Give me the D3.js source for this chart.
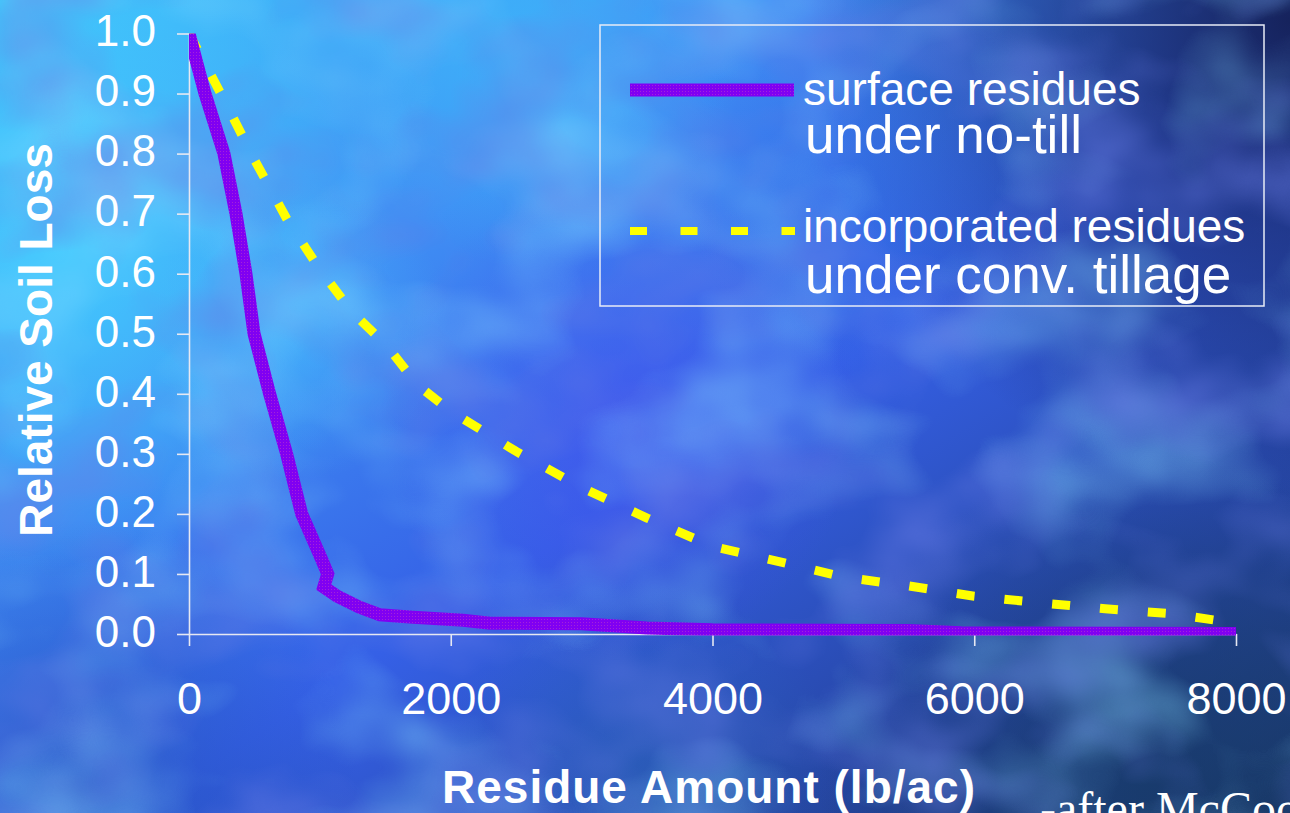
<!DOCTYPE html>
<html><head><meta charset="utf-8">
<script src="https://cdn.jsdelivr.net/npm/d3@7"></script>
<style>html,body{margin:0;padding:0;overflow:hidden;background:#2a60d8}svg{display:block}</style>
</head><body><svg id="c" width="1290" height="813"></svg>
<script>
// ---- data ----
const xTicks = [0, 2000, 4000, 6000, 8000];
const yTicks = [0, 0.1, 0.2, 0.3, 0.4, 0.5, 0.6, 0.7, 0.8, 0.9, 1.0];
const surfaceX = [0, 122, 267, 359, 435, 497, 616, 746, 861, 1016, 1060, 1030, 1131, 1300, 1459, 1713, 2095, 2300, 3000, 3500, 4000, 5500, 5900, 8000];
const surfaceY = [1.0, 0.9, 0.8, 0.7, 0.6, 0.5, 0.4, 0.3, 0.2, 0.123, 0.1, 0.078, 0.063, 0.045, 0.032, 0.028, 0.023, 0.018, 0.017, 0.010, 0.007, 0.006, 0.002, 0.001];
const incorpX = [0, 250, 500, 750, 1000, 1250, 1500, 1750, 2000, 2500, 3000, 3500, 4000, 4500, 5000, 5500, 6000, 6500, 7000, 7500, 8000];
const incorpY = [1.0, 0.897, 0.79, 0.69, 0.607, 0.535, 0.483, 0.414, 0.371, 0.304, 0.244, 0.193, 0.146, 0.121, 0.095, 0.080, 0.063, 0.052, 0.042, 0.034, 0.018];
const seriesNames = [["surface residues", "under no-till"], ["incorporated residues", "under conv. tillage"]];
const xTitle = "Residue Amount (lb/ac)";
const yTitle = "Relative Soil Loss";
const credit = "-after McCool et al.";

// ---- setup ----
const W = 1290, H = 813;
const svg = d3.select("#c");
const defs = svg.append("defs");

// background
const lg = defs.append("linearGradient").attr("id", "bg").attr("x1", 0).attr("y1", 0).attr("x2", 1).attr("y2", 1);
[[0, "#3fc6fb"], [0.3, "#3f8ef4"], [0.55, "#3560e6"], [0.8, "#2646a4"], [1, "#1a3868"]].forEach(s => lg.append("stop").attr("offset", s[0]).attr("stop-color", s[1]));
svg.append("rect").attr("width", W).attr("height", H).attr("fill", "url(#bg)");

const blobs = [
  {id: "b1", cx: 60, cy: 250, r: 330, c: "#44d0ff", o: 0.85},
  {id: "b2", cx: 540, cy: 70, r: 200, c: "#3cc0fc", o: 0.6},
  {id: "b3", cx: 300, cy: 330, r: 150, c: "#48c4ff", o: 0.45},
  {id: "b4", cx: 620, cy: 420, r: 240, c: "#4a4cf0", o: 0.5},
  {id: "b5", cx: 1290, cy: 20, r: 480, c: "#141f55", o: 0.95},
  {id: "b6", cx: 1150, cy: 780, r: 330, c: "#163a66", o: 0.7},
  {id: "b7", cx: 80, cy: 800, r: 280, c: "#1f4cb0", o: 0.6},
  {id: "b8", cx: 640, cy: 780, r: 200, c: "#2a74b8", o: 0.35},
  {id: "b9", cx: 880, cy: 180, r: 200, c: "#2f6ae0", o: 0.4}
];
blobs.forEach(b => {
  const rg = defs.append("radialGradient").attr("id", b.id).attr("gradientUnits", "userSpaceOnUse")
    .attr("cx", b.cx).attr("cy", b.cy).attr("r", b.r);
  rg.append("stop").attr("offset", 0).attr("stop-color", b.c).attr("stop-opacity", b.o);
  rg.append("stop").attr("offset", 1).attr("stop-color", b.c).attr("stop-opacity", 0);
  svg.append("rect").attr("width", W).attr("height", H).attr("fill", `url(#${b.id})`);
});

// cloudy texture
function cloud(id, seed, freq, color, a, off) {
  const f = defs.append("filter").attr("id", id).attr("x", 0).attr("y", 0).attr("width", "100%").attr("height", "100%");
  f.append("feTurbulence").attr("type", "fractalNoise").attr("baseFrequency", freq).attr("numOctaves", 3).attr("seed", seed);
  const c = d3.color(color);
  f.append("feColorMatrix").attr("type", "matrix")
    .attr("values", `0 0 0 0 ${c.r/255} 0 0 0 0 ${c.g/255} 0 0 0 0 ${c.b/255} ${a} 0 0 0 ${off}`);
  svg.append("rect").attr("width", W).attr("height", H).attr("filter", `url(#${id})`);
}
cloud("cl1", 3, "0.006 0.008", "#3fb4ff", 1.1, -0.5);
cloud("cl2", 11, "0.007 0.009", "#2434c8", 1.2, -0.52);

// purple texture pattern
const pat = defs.append("pattern").attr("id", "pp").attr("patternUnits", "userSpaceOnUse").attr("width", 3).attr("height", 3);
pat.append("rect").attr("width", 3).attr("height", 3).attr("fill", "#8000f2");
pat.append("rect").attr("x", 1).attr("y", 1).attr("width", 1).attr("height", 1).attr("fill", "#a424d8");

// ---- scales ----
const x = d3.scaleLinear().domain([0, 8000]).range([189, 1236]);
const y = d3.scaleLinear().domain([0, 1]).range([634, 33.5]);

defs.append("clipPath").attr("id", "plotclip").append("rect")
  .attr("x", x(0)).attr("y", y(1)).attr("width", x(8000) - x(0) + 6).attr("height", y(0) - y(1) + 1.5);

// ---- axes ----
const font = "'Liberation Sans', Arial, sans-serif";
const axisColor = "#e6e8f2";
const yAxis = svg.append("g").attr("transform", `translate(${x(0)},0)`)
  .call(d3.axisLeft(y).tickValues(yTicks).tickFormat(d3.format(".1f")).tickSize(12).tickSizeOuter(0).tickPadding(21));
const xAxis = svg.append("g").attr("transform", `translate(0,${y(0)})`)
  .call(d3.axisBottom(x).tickValues(xTicks).tickFormat(d3.format("d")).tickSize(12).tickSizeOuter(0).tickPadding(36));
[yAxis, xAxis].forEach(g => {
  g.selectAll("path,line").attr("stroke", axisColor).attr("stroke-width", 1.6);
  g.selectAll("text").attr("fill", "#ffffff").attr("font-family", font).attr("font-size", 44);
});
yAxis.selectAll("text").attr("dy", "0.28em");
xAxis.selectAll("text").attr("font-size", 45);

// ---- lines ----
const line = d3.line().x(d => x(d[0])).y(d => y(d[1]));
const plot = svg.append("g").attr("clip-path", "url(#plotclip)");
plot.append("path").datum(incorpX.map((v, i) => [v, incorpY[i]]))
  .attr("d", line).attr("fill", "none").attr("stroke", "#ffff00").attr("stroke-width", 9)
  .attr("stroke-dasharray", "18,30");
plot.append("path").datum(surfaceX.map((v, i) => [v, surfaceY[i]]))
  .attr("d", line).attr("fill", "none").attr("stroke", "url(#pp)").attr("stroke-width", 13)
  .attr("stroke-linejoin", "miter");

// ---- legend ----
const leg = svg.append("g");
leg.append("rect").attr("x", 600).attr("y", 25).attr("width", 664).attr("height", 281)
  .attr("fill", "none").attr("stroke", "#e8ecf6").attr("stroke-width", 1.5);
leg.append("line").attr("x1", 630).attr("x2", 794).attr("y1", 90).attr("y2", 90)
  .attr("stroke", "url(#pp)").attr("stroke-width", 13);
leg.append("line").attr("x1", 630).attr("x2", 795).attr("y1", 231).attr("y2", 231)
  .attr("stroke", "#ffff00").attr("stroke-width", 8).attr("stroke-dasharray", "17,33.5");
const legPos = [[105, 153], [242, 293]];
seriesNames.forEach((nm, i) => {
  leg.append("text").attr("x", 803).attr("y", legPos[i][0]).text(nm[0])
    .attr("fill", "#fff").attr("font-family", font).attr("font-size", 46);
  leg.append("text").attr("x", 805).attr("y", legPos[i][1]).text(nm[1])
    .attr("fill", "#fff").attr("font-family", font).attr("font-size", 53);
});

// ---- titles ----
svg.append("text").attr("transform", "translate(52,340) rotate(-90)").attr("text-anchor", "middle")
  .attr("fill", "#fff").attr("font-family", font).attr("font-weight", "bold").attr("font-size", 46).text(yTitle);
svg.append("text").attr("x", 442).attr("y", 803).attr("fill", "#fff").attr("font-family", font)
  .attr("font-weight", "bold").attr("font-size", 46).attr("letter-spacing", 1).text(xTitle);
svg.append("text").attr("x", 1040).attr("y", 825).attr("fill", "#fff")
  .attr("font-family", "'Liberation Serif', 'Times New Roman', serif").attr("font-size", 48).text(credit);
</script></body></html>
